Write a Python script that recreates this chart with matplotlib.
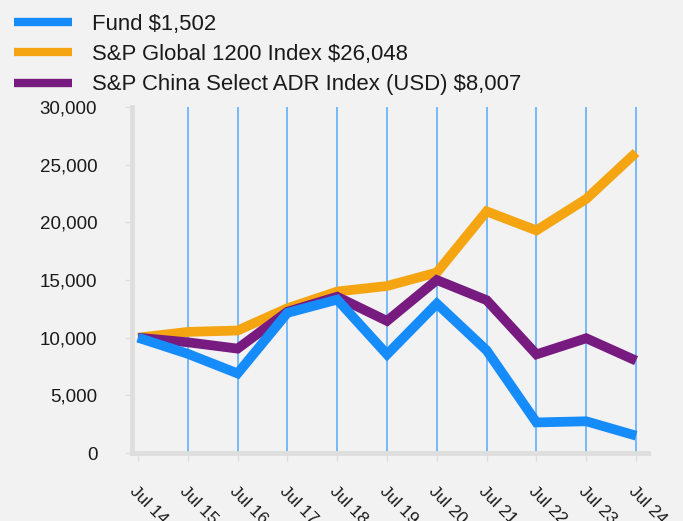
import matplotlib
matplotlib.use("Agg")
import matplotlib.pyplot as plt
import numpy as np

plt.rcParams['font.family'] = ['Liberation Sans', 'DejaVu Sans']

categories = ["Jul 14", "Jul 15", "Jul 16", "Jul 17", "Jul 18", "Jul 19",
              "Jul 20", "Jul 21", "Jul 22", "Jul 23", "Jul 24"]
fund = [10000, 8600, 6900, 12150, 13300, 8550, 12950, 8900, 2650, 2750, 1502]
global1200 = [10000, 10500, 10620, 12550, 14000, 14480, 15650, 20950, 19300, 22030, 26048]
china_adr = [10000, 9600, 9050, 12250, 13550, 11450, 15000, 13250, 8550, 9950, 8007]
labels = ["Fund $1,502", "S&P Global 1200 Index $26,048",
          "S&P China Select ADR Index (USD) $8,007"]
colors = ["#168bfa", "#f4a511", "#771b80"]
yticks = [0, 5000, 10000, 15000, 20000, 25000, 30000]

bg = "#f2f2f2"
fig = plt.figure(figsize=(6.83, 5.21), dpi=100, facecolor=bg)
ax = fig.add_axes([132/683, 1-453/521, (648-132)/683, (453-107)/521])
ax.set_facecolor(bg)

x = np.arange(len(categories))
for xi in x[1:]:
    ax.axvline(xi, color="#6db5fb", lw=1.3, zorder=1)

kw = dict(lw=7, solid_joinstyle='miter', solid_capstyle='butt')
h_global, = ax.plot(x, global1200, color=colors[1], zorder=3, **kw)
h_china, = ax.plot(x, china_adr, color=colors[2], zorder=4, **kw)
h_fund, = ax.plot(x, fund, color=colors[0], zorder=5, **kw)

ax.set_xlim(-0.12, 10.24)
ax.set_ylim(0, 30000)
ax.set_yticks(yticks)
ax.set_yticklabels([f"{v:,}" for v in yticks])
ax.set_xticks(x)
ax.set_xticklabels(categories, rotation=-45, ha='left', va='top', rotation_mode='anchor')

for s in ['top', 'right']:
    ax.spines[s].set_visible(False)
for s in ['left', 'bottom']:
    ax.spines[s].set_color("#dedede")
    ax.spines[s].set_linewidth(3.5)
ax.tick_params(axis='y', length=5, width=1, color="#dedede", pad=20, labelsize=13.5, labelcolor="#1a1a1a")
ax.tick_params(axis='x', length=6, width=1, color="#dedede", pad=16, labelsize=12.5, labelcolor="#1a1a1a")

leg = fig.legend([h_fund, h_global, h_china], labels, loc='upper left',
                 bbox_to_anchor=(0.0, 1.0), frameon=False, fontsize=15.9,
                 handlelength=2.65, handletextpad=0.9, labelspacing=0.42,
                 borderaxespad=0.22)
for t in leg.get_texts():
    t.set_color("#1a1a1a")
for h in leg.legend_handles:
    h.set_linewidth(6)

fig.savefig("out.png", dpi=100, facecolor=bg)
